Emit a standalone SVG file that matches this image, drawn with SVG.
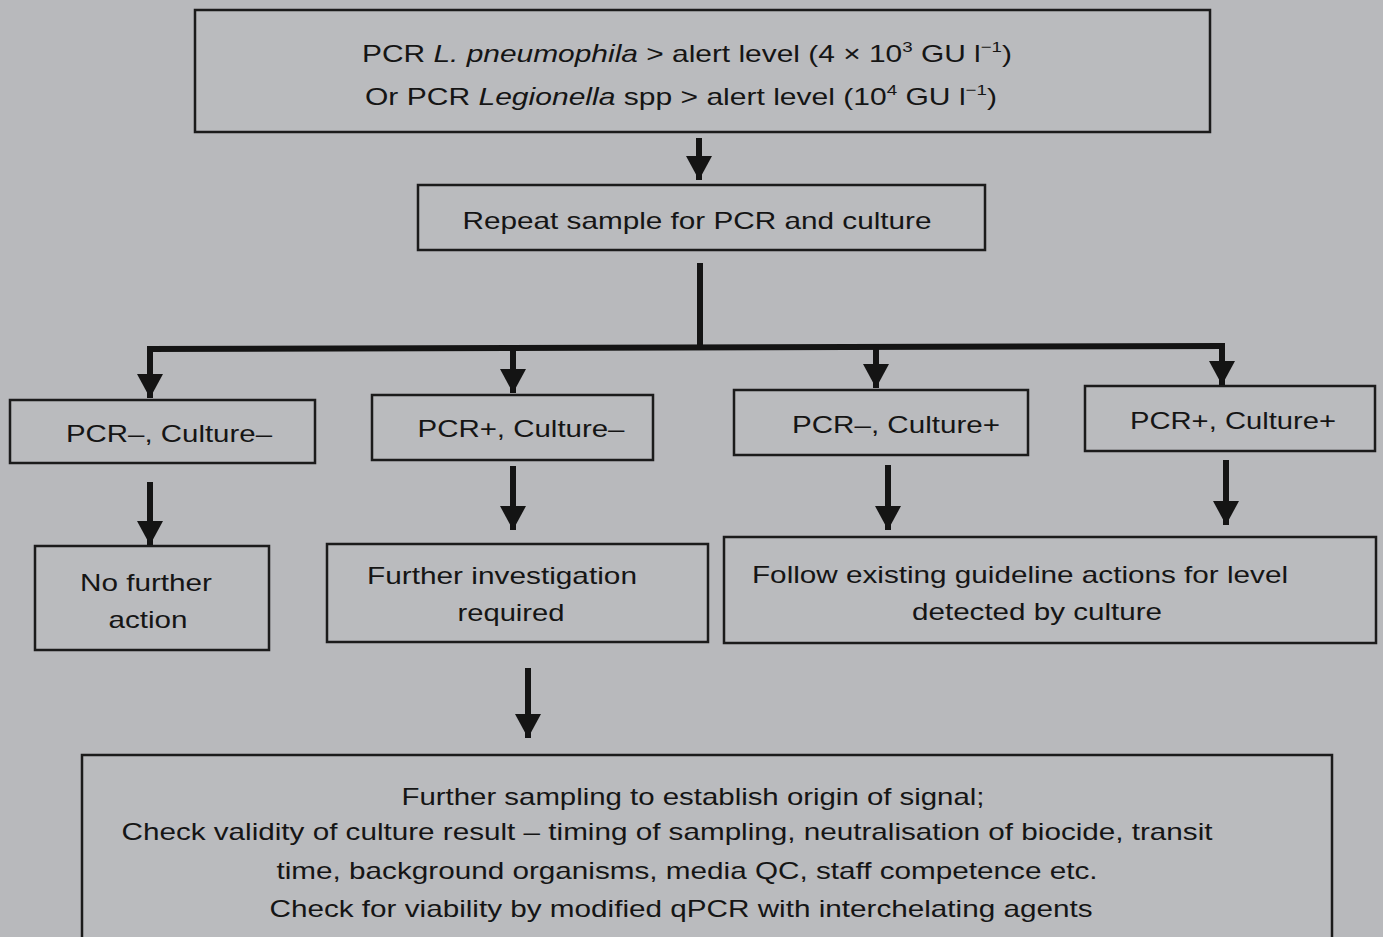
<svg xmlns="http://www.w3.org/2000/svg" width="1383" height="937" viewBox="0 0 1383 937">
<defs>
<style>
.bg{fill:#b8b9bc}
.box{fill:#babbbe;stroke:#1b1b1b;stroke-width:2.5}
.t{font-family:"Liberation Sans",Arial,sans-serif;font-size:24px;fill:#151515;text-anchor:middle}
.sup{font-size:15px}
.c{stroke:#141414;stroke-width:6;fill:none}
</style>
<marker id="ah" markerUnits="userSpaceOnUse" markerWidth="26" markerHeight="28" refX="24" refY="14" orient="auto" viewBox="0 0 26 28">
<path d="M0,1 L24,14 L0,27 z" fill="#141414"/>
</marker>
</defs>
<rect class="bg" x="0" y="0" width="1383" height="937"/>

<g id="n-alert">
<rect class="box" x="195" y="10" width="1015" height="122"/>
<text class="t" x="687" y="62" textLength="650" lengthAdjust="spacingAndGlyphs">PCR <tspan font-style="italic">L. pneumophila</tspan> &gt; alert level (4 × 10<tspan class="sup" dy="-10">3</tspan><tspan dy="10"> GU l</tspan><tspan class="sup" dy="-10">−1</tspan><tspan dy="10">)</tspan></text>
<text class="t" x="681" y="105" textLength="632" lengthAdjust="spacingAndGlyphs">Or PCR <tspan font-style="italic">Legionella</tspan> spp &gt; alert level (10<tspan class="sup" dy="-10">4</tspan><tspan dy="10"> GU l</tspan><tspan class="sup" dy="-10">−1</tspan><tspan dy="10">)</tspan></text>
</g>

<g id="n-repeat">
<rect class="box" x="418" y="185" width="567" height="65"/>
<text class="t" x="697" y="229" textLength="469" lengthAdjust="spacingAndGlyphs">Repeat sample for PCR and culture</text>
</g>

<g id="n-pm-cm">
<rect class="box" x="10" y="400" width="305" height="63"/>
<text class="t" x="169" y="442" textLength="206" lengthAdjust="spacingAndGlyphs">PCR–, Culture–</text>
</g>
<g id="n-pp-cm">
<rect class="box" x="372" y="395" width="281" height="65"/>
<text class="t" x="521" y="437" textLength="207" lengthAdjust="spacingAndGlyphs">PCR+, Culture–</text>
</g>
<g id="n-pm-cp">
<rect class="box" x="734" y="390" width="294" height="65"/>
<text class="t" x="896" y="433" textLength="208" lengthAdjust="spacingAndGlyphs">PCR–, Culture+</text>
</g>
<g id="n-pp-cp">
<rect class="box" x="1085" y="386" width="290" height="65"/>
<text class="t" x="1233" y="429" textLength="206" lengthAdjust="spacingAndGlyphs">PCR+, Culture+</text>
</g>

<g id="n-nofurther">
<rect class="box" x="35" y="546" width="234" height="104"/>
<text class="t" x="146" y="591" textLength="132" lengthAdjust="spacingAndGlyphs">No further</text>
<text class="t" x="148" y="628" textLength="79" lengthAdjust="spacingAndGlyphs">action</text>
</g>
<g id="n-investigate">
<rect class="box" x="327" y="544" width="381" height="98"/>
<text class="t" x="502" y="584" textLength="270" lengthAdjust="spacingAndGlyphs">Further investigation</text>
<text class="t" x="511" y="621" textLength="107" lengthAdjust="spacingAndGlyphs">required</text>
</g>
<g id="n-follow">
<rect class="box" x="724" y="537" width="652" height="106"/>
<text class="t" x="1020" y="583" textLength="536" lengthAdjust="spacingAndGlyphs">Follow existing guideline actions for level</text>
<text class="t" x="1037" y="620" textLength="250" lengthAdjust="spacingAndGlyphs">detected by culture</text>
</g>

<g id="n-sampling">
<rect class="box" x="82" y="755" width="1250" height="200"/>
<text class="t" x="693" y="805" textLength="583" lengthAdjust="spacingAndGlyphs">Further sampling to establish origin of signal;</text>
<text class="t" x="667" y="840" textLength="1091" lengthAdjust="spacingAndGlyphs">Check validity of culture result – timing of sampling, neutralisation of biocide, transit</text>
<text class="t" x="687" y="879" textLength="821" lengthAdjust="spacingAndGlyphs">time, background organisms, media QC, staff competence etc.</text>
<text class="t" x="681" y="917" textLength="823" lengthAdjust="spacingAndGlyphs">Check for viability by modified qPCR with interchelating agents</text>
</g>

<g id="connectors">
<line class="c" x1="699" y1="138" x2="699" y2="180" marker-end="url(#ah)"/>
<line class="c" x1="700" y1="263" x2="700" y2="346"/>
<line class="c" x1="147" y1="349" x2="1225" y2="346"/>
<line class="c" x1="150" y1="349" x2="150" y2="398" marker-end="url(#ah)"/>
<line class="c" x1="513" y1="348" x2="513" y2="393" marker-end="url(#ah)"/>
<line class="c" x1="876" y1="347" x2="876" y2="388" marker-end="url(#ah)"/>
<line class="c" x1="1222" y1="346" x2="1222" y2="385" marker-end="url(#ah)"/>
<line class="c" x1="150" y1="482" x2="150" y2="545" marker-end="url(#ah)"/>
<line class="c" x1="513" y1="466" x2="513" y2="530" marker-end="url(#ah)"/>
<line class="c" x1="888" y1="465" x2="888" y2="530" marker-end="url(#ah)"/>
<line class="c" x1="1226" y1="460" x2="1226" y2="525" marker-end="url(#ah)"/>
<line class="c" x1="528" y1="668" x2="528" y2="738" marker-end="url(#ah)"/>
</g>
</svg>
